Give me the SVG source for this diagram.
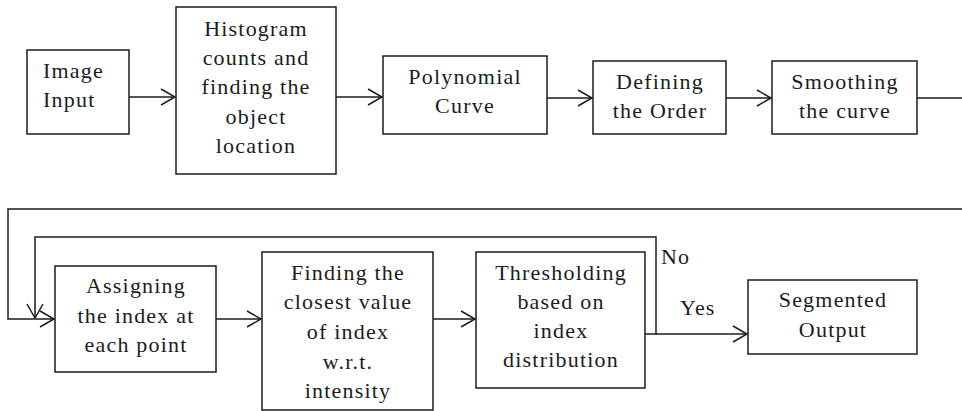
<svg xmlns="http://www.w3.org/2000/svg" width="962" height="411" viewBox="0 0 962 411">
  <defs>
    <style>
      .box { fill: #ffffff; stroke: #1c1c1c; stroke-width: 1.5; }
      .wire { fill: none; stroke: #1c1c1c; stroke-width: 1.5; }
      .t { font-family: "Times New Roman", Tinos, "Liberation Serif", "Noto Serif", "DejaVu Serif", Times, serif; font-size: 22px; fill: #1c1c1c; letter-spacing: 1.2px; }
      .c { text-anchor: middle; }
    </style>
    <marker id="arrow" markerUnits="userSpaceOnUse" markerWidth="20" markerHeight="20" viewBox="-16 -10 18 20" refX="0" refY="0" orient="auto">
      <path d="M-14,-8 L0,0 L-14,8" fill="none" stroke="#1c1c1c" stroke-width="1.5"/>
    </marker>
  </defs>
  <rect width="962" height="411" fill="#ffffff"/>

  <!-- connectors -->
  <g id="connectors">
    <line class="wire" x1="129" y1="97" x2="175" y2="97" marker-end="url(#arrow)"/>
    <line class="wire" x1="336" y1="97" x2="382" y2="97" marker-end="url(#arrow)"/>
    <line class="wire" x1="547" y1="98" x2="592" y2="98" marker-end="url(#arrow)"/>
    <line class="wire" x1="726" y1="98" x2="771" y2="98" marker-end="url(#arrow)"/>
    <!-- row wrap: smoothing output back to the second row -->
    <line class="wire" x1="917" y1="98" x2="962" y2="98"/>
    <polyline class="wire" points="962,209 8,209 8,319 54,319" marker-end="url(#arrow)"/>
    <line class="wire" x1="216" y1="319" x2="261" y2="319" marker-end="url(#arrow)"/>
    <line class="wire" x1="433" y1="319" x2="475" y2="319" marker-end="url(#arrow)"/>
    <!-- threshold decision -->
    <polyline class="wire" points="645,334 656,334 656,237 35,237 35,318" marker-end="url(#arrow)"/>
    <line class="wire" x1="656" y1="334" x2="747" y2="334" marker-end="url(#arrow)"/>
    <text class="t" x="661" y="264">No</text>
    <text class="t" x="680" y="315">Yes</text>
  </g>

  <g id="image-input">
    <rect class="box" x="27" y="50" width="102" height="84"/>
    <text class="t" x="43" y="78">Image</text>
    <text class="t" x="43" y="107">Input</text>
  </g>

  <g id="histogram">
    <rect class="box" x="176" y="7" width="160" height="167"/>
    <text class="t c" x="256" y="36">Histogram</text>
    <text class="t c" x="256" y="65">counts and</text>
    <text class="t c" x="256" y="94">finding the</text>
    <text class="t c" x="256" y="124">object</text>
    <text class="t c" x="256" y="153">location</text>
  </g>

  <g id="polynomial">
    <rect class="box" x="383" y="56" width="164" height="78"/>
    <text class="t c" x="465" y="84">Polynomial</text>
    <text class="t c" x="465" y="113">Curve</text>
  </g>

  <g id="defining-order">
    <rect class="box" x="593" y="61" width="133" height="73"/>
    <text class="t c" x="660" y="89">Defining</text>
    <text class="t c" x="660" y="118">the Order</text>
  </g>

  <g id="smoothing">
    <rect class="box" x="772" y="61" width="145" height="73"/>
    <text class="t c" x="845" y="89">Smoothing</text>
    <text class="t c" x="845" y="118">the curve</text>
  </g>

  <g id="assigning">
    <rect class="box" x="55" y="266" width="161" height="106"/>
    <text class="t c" x="136" y="293">Assigning</text>
    <text class="t c" x="136" y="323">the index at</text>
    <text class="t c" x="136" y="352">each point</text>
  </g>

  <g id="closest-value">
    <rect class="box" x="262" y="252" width="171" height="158"/>
    <text class="t c" x="348" y="280">Finding the</text>
    <text class="t c" x="348" y="309">closest value</text>
    <text class="t c" x="348" y="339">of index</text>
    <text class="t c" x="348" y="369">w.r.t.</text>
    <text class="t c" x="348" y="398">intensity</text>
  </g>

  <g id="thresholding">
    <rect class="box" x="476" y="252" width="169" height="136"/>
    <text class="t c" x="561" y="280">Thresholding</text>
    <text class="t c" x="561" y="309">based on</text>
    <text class="t c" x="561" y="338">index</text>
    <text class="t c" x="561" y="367">distribution</text>
  </g>

  <g id="segmented-output">
    <rect class="box" x="748" y="280" width="169" height="74"/>
    <text class="t c" x="833" y="307">Segmented</text>
    <text class="t c" x="833" y="337">Output</text>
  </g>
</svg>
